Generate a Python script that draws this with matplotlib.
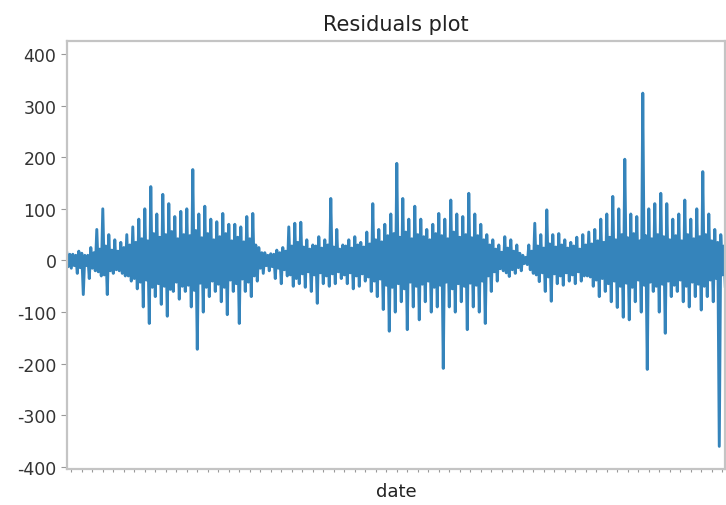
import numpy as np
import pandas as pd
import matplotlib
matplotlib.use("Agg")
import matplotlib.pyplot as plt
from matplotlib.ticker import MultipleLocator, NullFormatter

plt.rcParams["axes.unicode_minus"] = False

# Upper / lower swing of the residuals, left to right
res_high = [
    15, 12, 18, 10, 25, 60, 100, 50, 40, 35,
    50, 65, 80, 100, 143, 90, 128, 110, 85, 95,
    100, 176, 90, 105, 80, 75, 91, 70, 70, 65,
    85, 91, 25, 15, 13, 20, 25, 65, 72, 74,
    40, 30, 46, 40, 120, 60, 30, 40, 46, 35,
    55, 110, 60, 70, 90, 188, 120, 80, 105, 80,
    60, 70, 91, 80, 117, 90, 85, 130, 90, 70,
    50, 40, 30, 46, 40, 30, 10, 30, 72, 50,
    98, 50, 52, 40, 35, 45, 50, 55, 60, 80,
    90, 124, 100, 196, 90, 85, 324, 100, 110, 130,
    110, 80, 90, 117, 80, 100, 172, 90, 60, 50,
]
res_low = [
    -15, -25, -66, -35, -20, -30, -66, -25, -20, -30,
    -40, -55, -90, -122, -70, -85, -108, -60, -75, -60,
    -90, -172, -100, -70, -60, -80, -105, -60, -122, -60,
    -70, -40, -25, -20, -35, -45, -30, -50, -45, -52,
    -60, -83, -45, -50, -45, -35, -45, -55, -50, -40,
    -60, -70, -95, -137, -100, -80, -134, -90, -115, -80,
    -100, -90, -209, -90, -100, -80, -134, -90, -100, -122,
    -60, -40, -20, -31, -25, -20, -8, -25, -41, -60,
    -79, -45, -48, -40, -45, -40, -30, -50, -70, -60,
    -80, -91, -110, -115, -80, -100, -211, -60, -100, -141,
    -70, -60, -80, -90, -70, -96, -70, -80, -360, -50,
]
# width of the dense core of the band at the same places
res_core = [
    12, 10, 14, 10, 15, 22, 28, 20, 18, 25,
    30, 35, 42, 38, 52, 45, 50, 56, 42, 50,
    48, 58, 44, 52, 40, 46, 52, 38, 45, 36,
    42, 30, 15, 10, 12, 15, 18, 28, 35, 26,
    22, 28, 24, 30, 26, 22, 28, 24, 30, 26,
    32, 40, 36, 48, 52, 45, 55, 42, 50, 46,
    40, 52, 48, 42, 55, 45, 50, 44, 48, 40,
    30, 22, 16, 24, 18, 14, 6, 18, 28, 24,
    32, 26, 30, 24, 28, 22, 30, 32, 38, 35,
    45, 40, 50, 44, 52, 38, 48, 42, 50, 46,
    40, 48, 38, 50, 42, 46, 50, 38, 35, 28,
]

# four daily values per column: peak, core swing, trough
resid = np.ravel(np.column_stack([res_high,
                                  -np.array(res_core),
                                  np.array(res_core),
                                  res_low]))
dates = pd.date_range("2018-01-01", periods=len(resid), freq="D")
residuals = pd.Series(resid, index=dates)

fig = plt.figure(figsize=(7.26, 5.06), dpi=100)
ax = fig.add_axes([0.092, 0.071, 0.907, 0.846])

ax.plot(residuals.index, residuals.values, color="#1f77b4", lw=2.1, alpha=0.9)
ax.set_xlim(residuals.index[0], residuals.index[-1])
ax.set_ylim(-404, 425)
ax.set_yticks(np.arange(-400, 401, 100))

# date axis with no labels, only the small ticks along the bottom
ax.xaxis.set_major_locator(MultipleLocator(7))
ax.xaxis.set_major_formatter(NullFormatter())

for sp in ax.spines.values():
    sp.set_color("#c4c4c4")
    sp.set_linewidth(1.6)
ax.tick_params(axis="y", labelsize=12.5, colors="#333333", length=4, color="#999999")
ax.tick_params(axis="x", length=2.5, color="#999999")

ax.set_title("Residuals plot", fontsize=15, color="#222222", pad=8)
ax.set_xlabel("date", fontsize=13, color="#222222", labelpad=3)

fig.savefig("out.png", dpi=100)
